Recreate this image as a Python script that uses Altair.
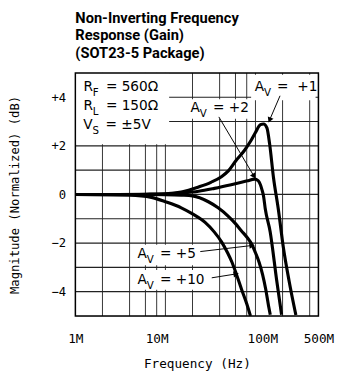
import math
import altair as alt
import pandas as pd

# ---------------- data ----------------
# frequencies in MHz, magnitude in dB (normalized)
av1_f = [1, 3, 6, 10, 15, 23.4, 32, 41.9, 50, 60.9, 75, 88.5, 100, 113.6, 123, 134, 143.5, 158.5, 179.6, 203.5, 236, 281]
av1_db = [0, 0, 0.01, 0.03, 0.1, 0.31, 0.5, 0.73, 0.97, 1.4, 1.8, 2.2, 2.55, 2.87, 2.9, 2.74, 2.09, 0.7, -0.62, -2.15, -3.55, -4.96]

av2_f = [1, 5, 10, 15, 23.4, 35, 53.7, 70, 81.3, 97.8, 107, 113.5, 118, 123, 128.6, 145.6, 172, 195]
av2_db = [0, 0, 0.02, 0.06, 0.13, 0.25, 0.4, 0.5, 0.56, 0.63, 0.57, 0.4, 0.2, -0.07, -0.6, -1.53, -3.53, -4.95]

av5_f = [1, 5, 10, 15, 20, 30, 38.5, 50, 60, 70, 80, 91.6, 100, 110, 120, 130, 140, 146]
av5_db = [0, 0, -0.01, -0.03, -0.06, -0.3, -0.55, -0.9, -1.2, -1.5, -1.75, -2.07, -2.4, -2.8, -3.3, -3.9, -4.6, -4.95]

av10_f = [1, 4, 7, 10, 15, 20, 27.6, 35, 42, 49, 55, 61, 70, 80, 88]
av10_db = [0, -0.03, -0.12, -0.3, -0.55, -0.8, -1.15, -1.55, -1.95, -2.4, -2.8, -3.25, -3.9, -4.5, -5.0]

series_names = ["+1", "+2", "+5", "+10"]

grid_f = [2, 4, 6, 8, 10, 20, 40, 60, 80, 100, 200, 400]
grid_db = [-4, -3, -2, -1, 0, 1, 2, 3, 4]
x_ticks = [1, 10, 100, 500]
x_tick_labels = ["1M", "10M", "100M", "500M"]
y_ticks = [-4, -2, 0, 2, 4]

title_lines = ["Non-Inverting Frequency", "Response (Gain)", "(SOT23-5 Package)"]
x_title = "Frequency (Hz)"
y_title = "Magnitude (Normalized) (dB)"

# annotation labels: main letter, subscript, remainder, anchor (f, dB)
label_main = ["R", "R", "V", "A", "A", "A", "A"]
label_sub = ["F", "L", "S", "V", "V", "V", "V"]
label_rest = ["= 560\u03a9", "= 150\u03a9", "= \u00b15V", "=\u00a0\u00a0+1", "= +2", "= +5", "= +10"]
label_f = [1.23, 1.23, 1.22, 98, 19.0, 4.9, 4.9]
label_db = [4.24, 3.46, 2.68, 4.24, 3.39, -2.63, -3.67]

# white label backgrounds (f1, f2, dB1, dB2)
box_f1 = [1, 89.5, 11, 4.58, 4.58]
box_f2 = [11, 465, 89.5, 23.8, 30.5]
box_db1 = [5, 4.92, 3.92, -2.07, -3.11]
box_db2 = [2.07, 3.88, 3.11, -2.91, -3.92]

# arrows (start -> end)
arrow_f1 = [187.5, 39.2, 24.4, 32.7]
arrow_db1 = [4.06, 3.19, -2.35, -3.43]
arrow_f2 = [143.5, 96.3, 91.6, 61]
arrow_db2 = [3.06, 0.75, -2.10, -3.27]

# ---------------- build ----------------
W = H = 249
X_DOM = [1, 500]
Y_DOM = [-5, 5]

xs = alt.Scale(type="log", domain=X_DOM, nice=False)
ys = alt.Scale(domain=Y_DOM, nice=False, zero=False)

curves = []
for name, fs, ds in zip(series_names, [av1_f, av2_f, av5_f, av10_f], [av1_db, av2_db, av5_db, av10_db]):
    for f, d in zip(fs, ds):
        curves.append({"series": name, "f": f, "db": d})
curve_df = pd.DataFrame(curves)


def px(f):
    return W * math.log10(f) / math.log10(X_DOM[1])


def py(d):
    return H * (Y_DOM[1] - d) / (Y_DOM[1] - Y_DOM[0])


arrow_df = pd.DataFrame({"f": arrow_f1, "db": arrow_db1, "f2": arrow_f2, "db2": arrow_db2})
arrow_df["angle"] = [
    math.degrees(math.atan2(py(b2) - py(b1), px(a2) - px(a1))) % 360
    for a1, b1, a2, b2 in zip(arrow_f1, arrow_db1, arrow_f2, arrow_db2)
]

label_df = pd.DataFrame({"f": label_f, "db": label_db, "main": label_main, "sub": label_sub, "rest": label_rest})
box_df = pd.DataFrame({"f": box_f1, "f2": box_f2, "db": box_db1, "db2": box_db2})

label_expr_x = " : ".join(
    f"datum.value == {v} ? '{t}'" for v, t in zip(x_ticks, x_tick_labels)
) + " : ''"

FONT = "DejaVu Sans"
MONO = "DejaVu Sans Mono"

x_axis = alt.Axis(
    values=x_ticks,
    labelExpr=label_expr_x,
    title=x_title,
    grid=False,
    ticks=False,
    domain=False,
    labelFont=MONO,
    labelFontSize=13,
    labelColor="black",
    labelPadding=17,
    labelFlush=False,
    labelOffset={"condition": [{"test": "datum.value == 10", "value": -9},
                               {"test": "datum.value == 100", "value": 7}], "value": 0},
    titleFont=MONO,
    titleFontSize=13,
    titleFontWeight="normal",
    titleColor="black",
    titleY=49,
    titleBaseline="middle",
)
y_axis = alt.Axis(
    values=y_ticks,
    labelExpr="datum.value > 0 ? '+' + datum.label : datum.label",
    title=y_title,
    grid=False,
    ticks=False,
    domain=False,
    labelFont=MONO,
    labelFontSize=12.5,
    labelColor="black",
    labelPadding=10,
    titleFont=MONO,
    titleFontSize=12.5,
    titleFontWeight="normal",
    titleColor="black",
    titleX=-62,
    titleY=H / 2,
    titleBaseline="middle",
    titleAlign="center",
)

X = lambda field: alt.X(field, scale=xs, axis=x_axis)
Y = lambda field: alt.Y(field, scale=ys, axis=y_axis)

vgrid = alt.Chart(pd.DataFrame({"f": grid_f})).mark_rule(color="#333333", strokeWidth=1).encode(
    x=X("f:Q")
)
hgrid = alt.Chart(pd.DataFrame({"db": grid_db})).mark_rule(color="#222222", strokeWidth=1.2).encode(
    y=Y("db:Q")
)
boxes = alt.Chart(box_df).mark_rect(fill="white", stroke="white", strokeWidth=0).encode(
    x=X("f:Q"), x2="f2:Q", y=Y("db:Q"), y2="db2:Q",
)
lines = alt.Chart(curve_df).mark_line(color="black", strokeWidth=3.2, interpolate="monotone", clip=True).encode(
    x=X("f:Q"), y=Y("db:Q"), detail="series:N",
)
arrow_lines = alt.Chart(arrow_df).mark_rule(color="black", strokeWidth=1).encode(
    x=X("f:Q"), x2="f2:Q", y=Y("db:Q"), y2="db2:Q",
)
arrow_heads = alt.Chart(arrow_df).mark_point(
    shape="triangle-right", filled=True, color="black", size=40, opacity=1
).encode(
    x=X("f2:Q"), y=Y("db2:Q"), angle=alt.Angle("angle:Q", scale=None),
)
txt_main = alt.Chart(label_df).mark_text(
    font=FONT, fontSize=14, align="left", baseline="alphabetic", color="black"
).encode(x=X("f:Q"), y=Y("db:Q"), text="main:N")
txt_sub = alt.Chart(label_df).mark_text(
    font=FONT, fontSize=10.5, align="left", baseline="alphabetic", color="black", dx=9.5, dy=5
).encode(x=X("f:Q"), y=Y("db:Q"), text="sub:N")
txt_rest = alt.Chart(label_df).mark_text(
    font=FONT, fontSize=14, align="left", baseline="alphabetic", color="black", dx=23
).encode(x=X("f:Q"), y=Y("db:Q"), text="rest:N")
frame = alt.Chart(pd.DataFrame({"f": [X_DOM[0]], "f2": [X_DOM[1]], "db": [Y_DOM[0]], "db2": [Y_DOM[1]]})).mark_rect(
    fillOpacity=0, stroke="black", strokeWidth=1.5
).encode(
    x=X("f:Q"), x2="f2:Q", y=Y("db:Q"), y2="db2:Q",
)

chart = alt.layer(
    vgrid, hgrid, boxes, lines, arrow_lines, arrow_heads, txt_main, txt_sub, txt_rest, frame
).properties(
    width=W,
    height=H,
    padding={"left": 69, "top": 62, "right": 17, "bottom": 58},
    autosize=alt.AutoSizeParams(type="none"),
    title=alt.TitleParams(
        text=title_lines,
        anchor="start",
        frame="group",
        font="Liberation Sans Narrow, Roboto, sans-serif",
        fontSize=15,
        fontWeight="bold",
        lineHeight=17.5,
        offset=12,
        color="black",
    ),
).configure_view(strokeWidth=0).configure(background="white")

chart.save("out.html", embed_options={"renderer": "svg", "actions": False})
